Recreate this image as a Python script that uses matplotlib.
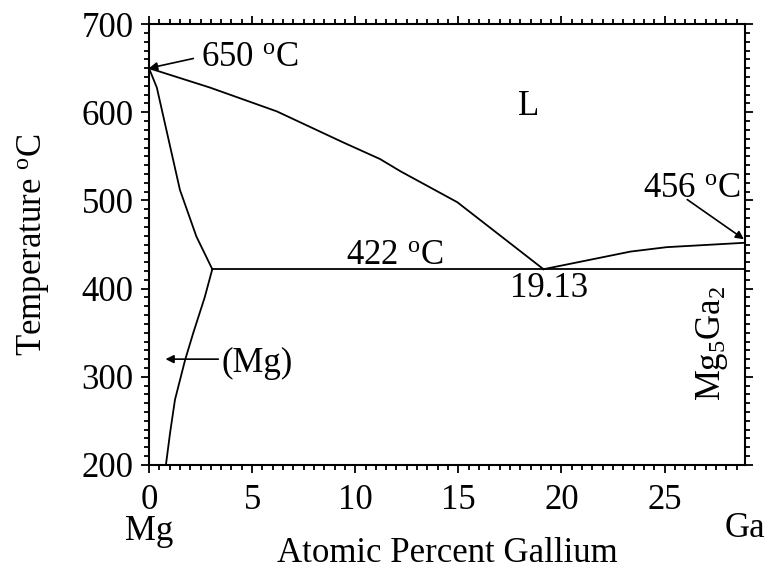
# Mg-Ga phase diagram, Mg-rich side up to Mg5Ga2

import matplotlib
matplotlib.use('Agg')
import matplotlib.pyplot as plt
from matplotlib.ticker import MultipleLocator

plt.rcParams['font.family'] = ['Liberation Serif', 'DejaVu Serif']
plt.rcParams['mathtext.fontset'] = 'custom'
plt.rcParams['mathtext.rm'] = 'Liberation Serif'
plt.rcParams['mathtext.it'] = 'Liberation Serif:italic'

# liquidus, Mg side (at.% Ga, deg C)
liq_mg_x = [0.0, 2.96, 6.2, 9.4, 11.2, 12.2, 14.95, 19.13]
liq_mg_T = [650, 628, 601, 566, 547, 533, 498, 422]

# liquidus, Mg5Ga2 side
liq_ga_x = [19.13, 23.35, 25.1, 28.9]
liq_ga_T = [422, 442, 447, 452]

# solidus of (Mg)
sol_x = [0.0, 0.38, 1.5, 2.3, 3.07]
sol_T = [650, 628, 512, 459, 422]

# solvus of (Mg)
solv_x = [3.07, 2.7, 2.15, 1.75, 1.26, 1.02, 0.82]
solv_T = [422, 390, 350, 319, 274, 236, 200]

# eutectic line
eut_x = [3.07, 28.9]
eut_T = [422, 422]

xmax = 28.9

fig = plt.figure(figsize=(7.74, 5.74), dpi=100)
ax = fig.add_axes([0.1925, 0.190, 0.770, 0.768])

for xs, ts in [(liq_mg_x, liq_mg_T), (liq_ga_x, liq_ga_T), (sol_x, sol_T),
               (solv_x, solv_T), (eut_x, eut_T)]:
    ax.plot(xs, ts, color='black', lw=1.3)

ax.set_xlim(0, xmax)
ax.set_ylim(200, 700)
ax.xaxis.set_major_locator(MultipleLocator(5))
ax.xaxis.set_minor_locator(MultipleLocator(0.5))
ax.yaxis.set_major_locator(MultipleLocator(100))
ax.yaxis.set_minor_locator(MultipleLocator(10))
ax.tick_params(which='both', direction='out', top=True, right=True,
               labeltop=False, labelright=False, width=1.3, labelsize=25)
ax.tick_params(which='major', length=6)
ax.tick_params(which='minor', length=3.5)
ax.tick_params(axis='x', pad=8)
ax.tick_params(axis='y', pad=5)
for s in ax.spines.values():
    s.set_linewidth(1.5)

ax.set_xlabel('Atomic Percent Gallium', fontsize=25, labelpad=14)
ax.set_ylabel(r'Temperature $^{\rm o}$C', fontsize=25, labelpad=22)

fs = 25
arrow = dict(arrowstyle='-|>', color='black', lw=1.2, mutation_scale=12,
             shrinkA=0, shrinkB=0)
ax.annotate('', xy=(0.0, 650), xytext=(2.15, 661), arrowprops=arrow)
ax.text(2.5, 662, r'650 $^{\rm o}$C', fontsize=fs, va='center', ha='left')
ax.annotate('', xy=(28.85, 456), xytext=(26.1, 501), arrowprops=arrow)
ax.text(26.3, 514, r'456 $^{\rm o}$C', fontsize=fs, va='center', ha='center')
ax.annotate('', xy=(0.8, 320), xytext=(3.36, 320), arrowprops=arrow)
ax.text(3.5, 315, '(Mg)', fontsize=fs, va='center', ha='left')
ax.text(18.4, 606, 'L', fontsize=fs, ha='center', va='center')
ax.text(11.9, 437, r'422 $^{\rm o}$C', fontsize=fs, ha='center', va='center')
ax.text(19.4, 400, '19.13', fontsize=fs, ha='center', va='center')
ax.text(27.3, 338, r'Mg$_5$Ga$_2$', fontsize=fs, ha='center', va='center',
        rotation=90)

ax.text(0.0, -0.15, 'Mg', transform=ax.transAxes, fontsize=fs,
        ha='center', va='center')
ax.text(1.0, -0.145, 'Ga', transform=ax.transAxes, fontsize=fs,
        ha='center', va='center')

fig.savefig('out.png', dpi=100)
